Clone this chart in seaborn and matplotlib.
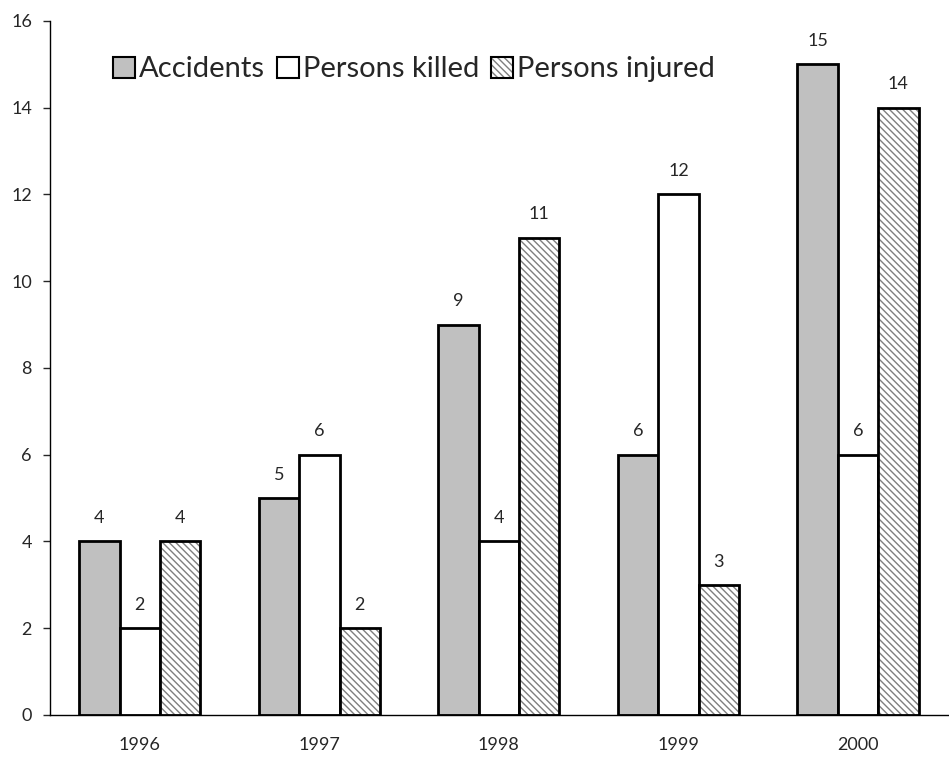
import matplotlib
matplotlib.use('Agg')
import matplotlib.pyplot as plt
import seaborn as sns
import pandas as pd
from matplotlib.patches import Patch, Rectangle

sns.set_style("white")
plt.rcParams['font.family'] = ['Lato', 'DejaVu Sans']
plt.rcParams['hatch.linewidth'] = 1.0

# ── data ──────────────────────────────────────────
years = ['1996', '1997', '1998', '1999', '2000']
series = ['Accidents', 'Persons killed', 'Persons injured']
accidents = [4, 5, 9, 6, 15]
killed = [2, 6, 4, 12, 6]
injured = [4, 2, 11, 3, 14]

df = pd.DataFrame({
    'year': years * 3,
    'series': [series[0]] * 5 + [series[1]] * 5 + [series[2]] * 5,
    'value': accidents + killed + injured,
})

colors = ['#C0C0C0', 'white', 'white']

fig = plt.figure(figsize=(9.49, 7.57), dpi=100)
ax = fig.add_axes([0.0527, 0.0555, 0.946, 0.917])

sns.barplot(data=df, x='year', y='value', hue='series', palette=colors,
            edgecolor='black', linewidth=2, width=0.675, saturation=1,
            legend=False, ax=ax)

# hatched bars: gray hatch, black outline on top
for cont, name in zip(ax.containers, series):
    for p in cont.patches:
        if name == 'Persons injured':
            p.set_hatch('\\\\\\\\\\')
            p.set_edgecolor('#7f7f7f')
            p.set_linewidth(0)
            ax.add_patch(Rectangle(p.get_xy(), p.get_width(), p.get_height(),
                                   fill=False, edgecolor='black', linewidth=2, zorder=3))
    ax.bar_label(cont, padding=11, fontsize=13)

ax.set_ylim(0, 16)
ax.set_yticks(range(0, 17, 2))
ax.set_xlim(-0.5, 4.5)
ax.set_xlabel('')
ax.set_ylabel('')
ax.tick_params(axis='y', length=5, width=1, direction='out', left=True, labelsize=13, pad=8)
ax.tick_params(axis='x', length=0, labelsize=13, pad=16)
sns.despine(ax=ax)
for s in ['left', 'bottom']:
    ax.spines[s].set_color('black')
    ax.spines[s].set_linewidth(1)

hatch_p = Patch(facecolor='white', edgecolor='#7f7f7f', hatch='\\\\\\\\\\', linewidth=0)
outline = Patch(facecolor='none', edgecolor='black', linewidth=1.5)
handles = [Patch(facecolor='#C0C0C0', edgecolor='black', linewidth=1.5),
           Patch(facecolor='white', edgecolor='black', linewidth=1.5),
           (hatch_p, outline)]
ax.legend(handles, series, loc='center left', bbox_to_anchor=(0.07, 0.93),
          ncol=3, frameon=False, fontsize=21, handlelength=0.75, handleheight=0.75,
          handletextpad=0.15, columnspacing=0.4, borderaxespad=0, borderpad=0)

fig.savefig('out.png', dpi=100)
